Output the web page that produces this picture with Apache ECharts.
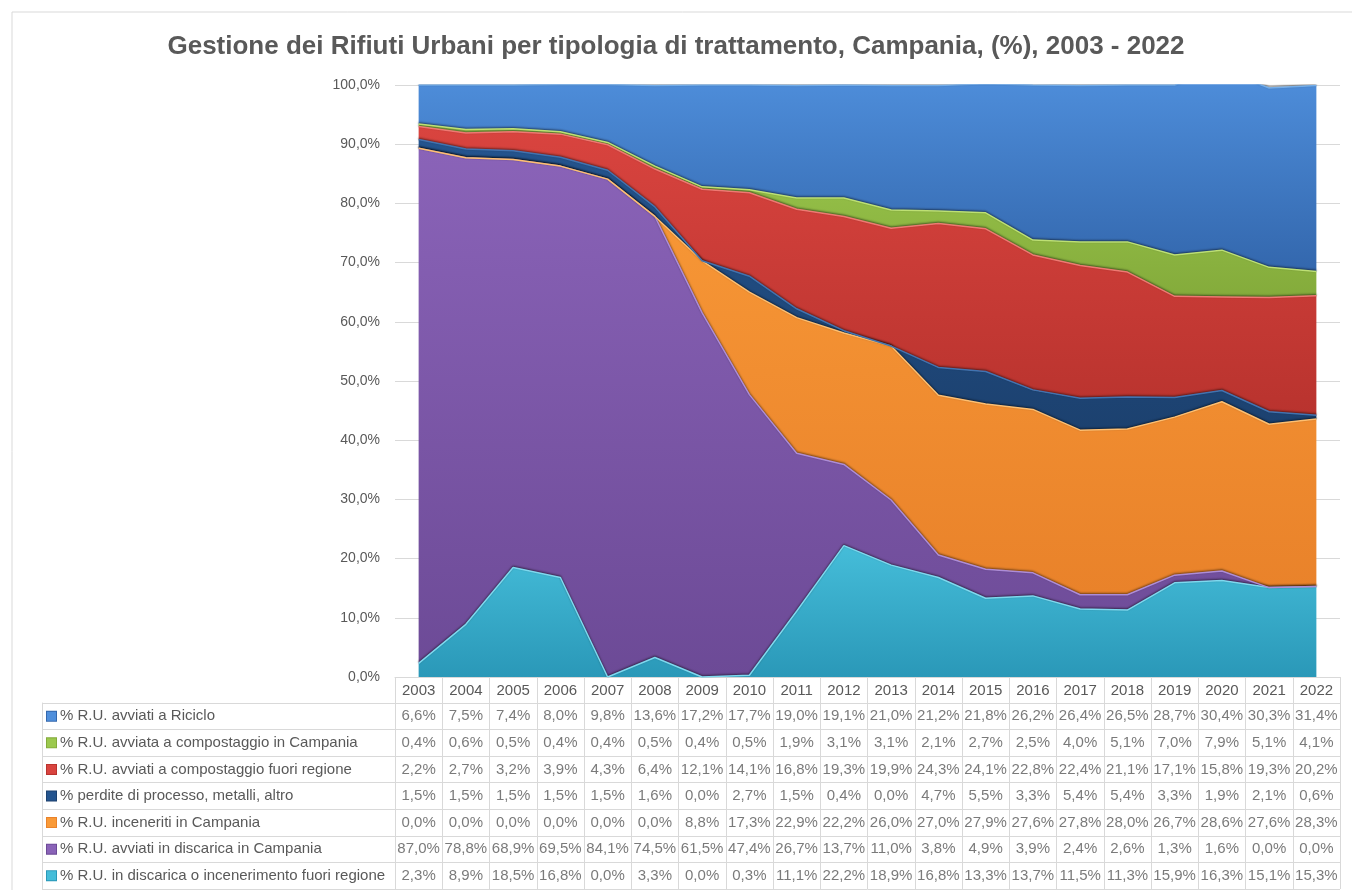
<!DOCTYPE html>
<html>
<head>
<meta charset="utf-8">
<title>Gestione dei Rifiuti Urbani - Campania</title>
<script src="https://cdn.jsdelivr.net/npm/echarts@6/dist/echarts.min.js"></script>
<style>
  html, body { margin: 0; padding: 0; background: #fff; }
  #chart { width: 1352px; height: 890px; }
</style>
</head>
<body>
<div id="chart"></div>
<script>
// anni (intestazione della tabella)
const years = ["2003", "2004", "2005", "2006", "2007", "2008", "2009", "2010", "2011", "2012",
  "2013", "2014", "2015", "2016", "2017", "2018", "2019", "2020", "2021", "2022"];

// valori in % per tipologia di trattamento
const riciclo = [6.6, 7.5, 7.4, 8.0, 9.8, 13.6, 17.2, 17.7, 19.0, 19.1, 21.0, 21.2, 21.8, 26.2, 26.4, 26.5, 28.7, 30.4, 30.3, 31.4];
const compCampania = [0.4, 0.6, 0.5, 0.4, 0.4, 0.5, 0.4, 0.5, 1.9, 3.1, 3.1, 2.1, 2.7, 2.5, 4.0, 5.1, 7.0, 7.9, 5.1, 4.1];
const compFuori = [2.2, 2.7, 3.2, 3.9, 4.3, 6.4, 12.1, 14.1, 16.8, 19.3, 19.9, 24.3, 24.1, 22.8, 22.4, 21.1, 17.1, 15.8, 19.3, 20.2];
const perdite = [1.5, 1.5, 1.5, 1.5, 1.5, 1.6, 0.0, 2.7, 1.5, 0.4, 0.0, 4.7, 5.5, 3.3, 5.4, 5.4, 3.3, 1.9, 2.1, 0.6];
const inceneriti = [0.0, 0.0, 0.0, 0.0, 0.0, 0.0, 8.8, 17.3, 22.9, 22.2, 26.0, 27.0, 27.9, 27.6, 27.8, 28.0, 26.7, 28.6, 27.6, 28.3];
const discCampania = [87.0, 78.8, 68.9, 69.5, 84.1, 74.5, 61.5, 47.4, 26.7, 13.7, 11.0, 3.8, 4.9, 3.9, 2.4, 2.6, 1.3, 1.6, 0.0, 0.0];
const discFuori = [2.3, 8.9, 18.5, 16.8, 0.0, 3.3, 0.0, 0.3, 11.1, 22.2, 18.9, 16.8, 13.3, 13.7, 11.5, 11.3, 15.9, 16.3, 15.1, 15.3];

// righe della tabella, dall'alto verso il basso
const rows = [
  { name: "% R.U. avviati a Riciclo", data: riciclo, c1: "#4f8fdc", c2: "#3367ad", edge: "#74aeea" },
  { name: "% R.U. avviata a compostaggio in Campania", data: compCampania, c1: "#9cc94e", c2: "#84ab3b", edge: "#bde073" },
  { name: "% R.U. avviati a compostaggio fuori regione", data: compFuori, c1: "#d9443f", c2: "#b9332e", edge: "#f07872" },
  { name: "% perdite di processo, metalli, altro", data: perdite, c1: "#24548e", c2: "#1c416f", edge: "#4173b0" },
  { name: "% R.U. inceneriti in Campania", data: inceneriti, c1: "#f99a38", c2: "#e9822a", edge: "#ffbf70" },
  { name: "% R.U. avviati in discarica in Campania", data: discCampania, c1: "#8a63b8", c2: "#6c4a96", edge: "#ad8cd8" },
  { name: "% R.U. in discarica o incenerimento fuori regione", data: discFuori, c1: "#45bdd9", c2: "#2a98b8", edge: "#7dd9ef" },
];

const fmt = v => v.toFixed(1).replace(".", ",") + "%";
const gridColor = "#d9d9d9";
const textColor = "#595959";
const font = "Liberation Sans";

let myChart = echarts.init(document.getElementById("chart"));

// aree impilate: si parte dal basso (ultima riga della tabella)
let areaSeries = rows.slice().reverse().map(r => ({
  name: r.name,
  type: "line",
  stack: "Total",
  data: r.data,
  showSymbol: false,
  silent: true,
  lineStyle: {
    width: 1.5,
    color: r.edge,
    shadowColor: "rgba(0,0,0,0.6)",
    shadowBlur: 2,
    shadowOffsetY: -1,
  },
  areaStyle: {
    opacity: 1,
    color: new echarts.graphic.LinearGradient(0, 0, 0, 1, [
      { offset: 0, color: r.c1 },
      { offset: 1, color: r.c2 },
    ]),
  },
}));

// celle della tabella dati
let cells = [];
rows.forEach((r, ri) => {
  r.data.forEach((v, i) => cells.push([i, ri, v]));
});

let rich = { t: { color: textColor, fontSize: 15, fontFamily: font, padding: [0, 0, 0, 4] } };
rows.forEach((r, i) => {
  rich["i" + i] = { width: 9, height: 9, backgroundColor: r.c1, borderColor: r.c2, borderWidth: 1 };
});

myChart.setOption({
  animation: false,
  title: {
    text: "Gestione dei Rifiuti Urbani per tipologia di trattamento, Campania, (%), 2003 - 2022",
    left: "center",
    top: 29,
    textStyle: { color: textColor, fontSize: 26, fontWeight: "bold", fontFamily: font },
  },
  graphic: [
    { type: "rect", shape: { x: 12, y: 12, width: 1352, height: 890 }, style: { fill: "none", stroke: gridColor, lineWidth: 1 }, silent: true },
  ],
  grid: [
    { left: 395, right: 12, top: 85, bottom: 213 },
    { left: 395, right: 12, top: 703, bottom: 1 },
    { left: 42, right: 957, top: 703, bottom: 1 },
  ],
  xAxis: [
    {
      type: "category",
      gridIndex: 0,
      data: years,
      boundaryGap: true,
      axisLine: { show: true, lineStyle: { color: gridColor } },
      // i tick fanno da bordi verticali dell'intestazione
      axisTick: { show: true, interval: 0, length: 26, lineStyle: { color: gridColor } },
      axisLabel: { interval: 0, color: textColor, fontSize: 15, fontFamily: font, margin: 6 },
    },
    {
      type: "category",
      gridIndex: 1,
      data: years,
      boundaryGap: true,
      axisLine: { show: false },
      axisTick: { show: false },
      axisLabel: { show: false },
      splitLine: { show: true, interval: 0, lineStyle: { color: gridColor } },
    },
    { type: "value", gridIndex: 2, show: false },
  ],
  yAxis: [
    {
      type: "value",
      gridIndex: 0,
      min: 0,
      max: 100,
      interval: 10,
      axisLine: { show: false },
      axisTick: { show: false },
      splitLine: { lineStyle: { color: gridColor } },
      axisLabel: { formatter: v => fmt(v), color: textColor, fontSize: 14, fontFamily: font, margin: 15 },
    },
    {
      type: "category",
      gridIndex: 1,
      inverse: true,
      data: rows.map(r => r.name),
      axisLine: { show: false },
      axisTick: { show: false },
      axisLabel: { show: false },
      splitLine: { show: true, interval: 0, lineStyle: { color: gridColor } },
    },
    {
      // colonna con le voci della legenda
      type: "category",
      gridIndex: 2,
      inverse: true,
      data: rows.map(r => r.name),
      axisLine: { show: true, lineStyle: { color: gridColor } },
      axisTick: { show: false },
      splitLine: { show: true, interval: 0, lineStyle: { color: gridColor } },
      axisLabel: {
        interval: 0,
        inside: true,
        align: "left",
        margin: 5,
        formatter: (name, idx) => "{i" + idx + "|}{t|" + name + "}",
        rich: rich,
      },
    },
  ],
  series: areaSeries.concat([
    {
      type: "scatter",
      xAxisIndex: 1,
      yAxisIndex: 1,
      data: cells,
      symbolSize: 1,
      silent: true,
      itemStyle: { color: "rgba(0,0,0,0)" },
      label: {
        show: true,
        position: "inside",
        formatter: p => fmt(p.value[2]),
        color: textColor,
        fontSize: 15,
        fontFamily: font,
      },
    },
  ]),
});
</script>
</body>
</html>
